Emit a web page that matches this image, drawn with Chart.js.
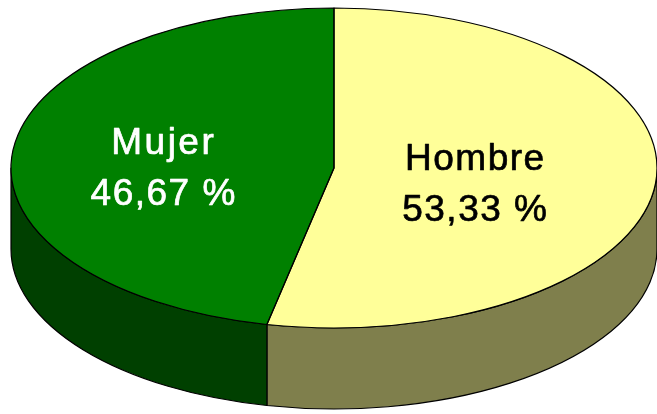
<!DOCTYPE html>
<html><head><meta charset="utf-8">
<script src="https://cdn.jsdelivr.net/npm/chart.js@4/dist/chart.umd.min.js"></script>
<style>html,body{margin:0;padding:0;background:#fff;}canvas{display:block;}</style>
</head><body>
<canvas id="c" width="657" height="414"></canvas>
<script>
const categories = ['Hombre', 'Mujer'];
const values = [53.33, 46.67];
const valueLabels = ['53,33 %', '46,67 %'];
const topColors = ['#FFFF99', '#008000'];
const sideColors = ['#7F7F4C', '#004000'];
const textColors = ['#000000', '#FFFFFF'];

const CX = 334, CY = 168, RX = 323, RY = 160, DEPTH = 81;
const labelFrac = [0.44, 0.53];

function applyT(ctx, arc) {
  const R = arc.outerRadius;
  ctx.translate(CX, CY);
  ctx.scale(RX / R, RY / R);
  ctx.translate(-arc.x, -arc.y);
}

const pie3d = {
  id: 'pie3d',
  beforeDatasetsDraw(chart) {
    const ctx = chart.ctx;
    const arcs = chart.getDatasetMeta(0).data;
    arcs.forEach((arc, i) => {
      const R = arc.outerRadius;
      const D = DEPTH * R / RY;
      let s = arc.startAngle, e = arc.endAngle;
      const a0 = Math.max(s, 0), a1 = Math.min(e, Math.PI);
      if (a1 <= a0) return;
      ctx.save();
      applyT(ctx, arc);
      ctx.beginPath();
      ctx.arc(arc.x, arc.y, R, a0, a1, false);
      ctx.lineTo(arc.x + R * Math.cos(a1), arc.y + R * Math.sin(a1) + D);
      ctx.arc(arc.x, arc.y + D, R, a1, a0, true);
      ctx.closePath();
      ctx.restore();
      ctx.fillStyle = sideColors[i];
      ctx.fill();
      ctx.lineWidth = 1.2;
      ctx.strokeStyle = '#000';
      ctx.lineJoin = 'round';
      ctx.stroke();
    });
    ctx.save();
    applyT(ctx, arcs[0]);
  },
  afterDatasetsDraw(chart) {
    const ctx = chart.ctx;
    ctx.restore();
    const arcs = chart.getDatasetMeta(0).data;
    arcs.forEach((arc) => {
      ctx.save();
      applyT(ctx, arc);
      ctx.beginPath();
      ctx.moveTo(arc.x, arc.y);
      ctx.arc(arc.x, arc.y, arc.outerRadius, arc.startAngle, arc.endAngle, false);
      ctx.closePath();
      ctx.restore();
      ctx.lineWidth = 1.2;
      ctx.strokeStyle = '#000';
      ctx.lineJoin = 'round';
      ctx.stroke();
    });
    arcs.forEach((arc, i) => {
      const mid = (arc.startAngle + arc.endAngle) / 2;
      const x = CX + RX * labelFrac[i] * Math.cos(mid);
      const y = CY + RY * labelFrac[i] * Math.sin(mid);
      ctx.save();
      ctx.font = '37px "Liberation Sans", Arial, sans-serif';
      ctx.fillStyle = textColors[i];
      ctx.strokeStyle = textColors[i];
      ctx.lineWidth = 0.7;
      ctx.textAlign = 'center';
      ctx.textBaseline = 'alphabetic';
      try { ctx.letterSpacing = (i === 1 ? '2.5px' : '1.5px'); } catch (e) {}
      ctx.fillText(categories[i], x, y - 5);
      ctx.strokeText(categories[i], x, y - 5);
      try { ctx.letterSpacing = '1.5px'; } catch (e) {}
      ctx.fillText(valueLabels[i], x, y + 46);
      ctx.strokeText(valueLabels[i], x, y + 46);
      ctx.restore();
    });
  }
};

new Chart(document.getElementById('c'), {
  type: 'pie',
  data: {
    labels: categories,
    datasets: [{
      data: values,
      backgroundColor: topColors,
      borderWidth: 0,
      clip: false
    }]
  },
  options: {
    responsive: false,
    maintainAspectRatio: false,
    animation: false,
    layout: { padding: 0 },
    plugins: { legend: { display: false }, tooltip: { enabled: false } }
  },
  plugins: [pie3d]
});
</script>
</body></html>
